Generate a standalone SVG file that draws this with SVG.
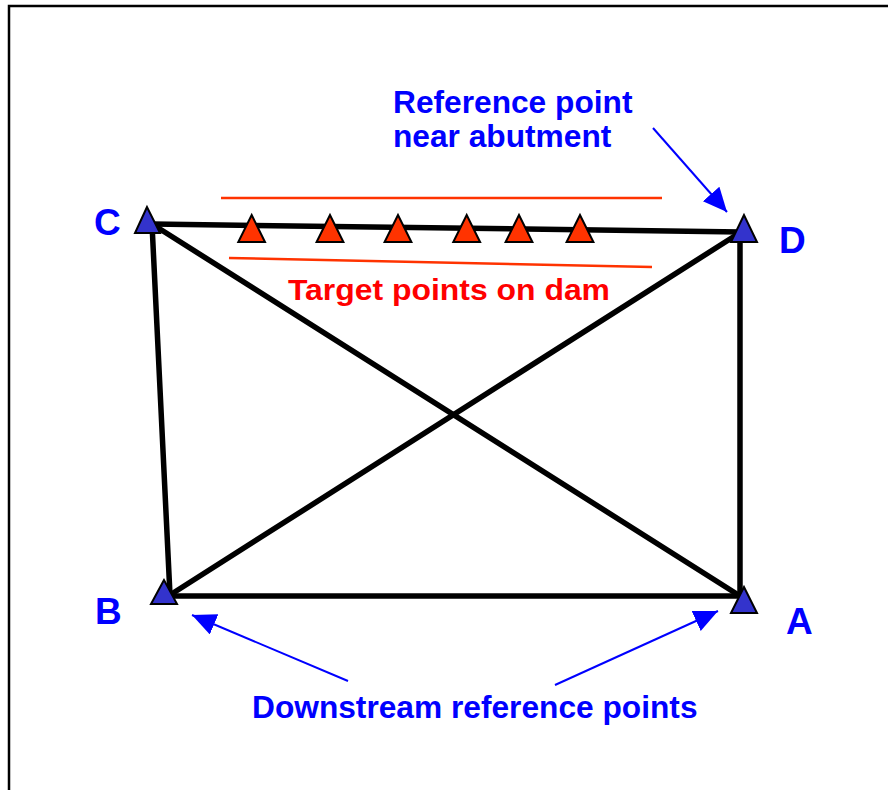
<svg xmlns="http://www.w3.org/2000/svg" width="888" height="790" viewBox="0 0 888 790">
<style>
.edge{stroke:#000;stroke-width:5.5;fill:none;stroke-linecap:round}
.sta{fill:#3333CC;stroke:#000;stroke-width:2;stroke-linejoin:miter}
.tgt{fill:#FF3300;stroke:#000;stroke-width:2}
.red{stroke:#FF3300;stroke-width:2.5;fill:none}
.arr{stroke:#0000FF;stroke-width:2;fill:none;marker-end:url(#ah)}
.lbl{font-family:"Liberation Sans",Arial,sans-serif;font-weight:bold;fill:#0000FF}
.big{font-size:37px}
.note{font-size:31.7px}
.rtxt{font-family:"Liberation Sans",Arial,sans-serif;font-weight:bold;fill:#FF0000;font-size:30px}
</style>
<defs>
<marker id="ah" markerUnits="userSpaceOnUse" markerWidth="26" markerHeight="24" refX="24" refY="11" orient="auto">
<path d="M0,0 L24,11 L0,22 z" fill="#0000FF"/>
</marker>
</defs>
<rect x="0" y="0" width="888" height="790" fill="#fff"/>
<rect x="9" y="6" width="900" height="800" fill="none" stroke="#000" stroke-width="2.5"/>
<g id="connectors">
<line class="edge" x1="152" y1="224" x2="741" y2="232"/>
<line class="edge" x1="152" y1="224" x2="170" y2="595"/>
<line class="edge" x1="152" y1="224" x2="740" y2="596"/>
<line class="edge" x1="170" y1="595" x2="741" y2="232"/>
<line class="edge" x1="170" y1="596" x2="740" y2="596"/>
<line class="edge" x1="740" y1="232" x2="740" y2="596"/>
<line class="red" x1="221" y1="198" x2="662" y2="198"/>
<line class="red" x1="229" y1="258" x2="652" y2="267"/>
<line class="arr" x1="653" y1="128" x2="727" y2="212"/>
<line class="arr" x1="348" y1="681" x2="192" y2="615"/>
<line class="arr" x1="555" y1="685" x2="718" y2="611"/>
</g>
<g id="C">
<polygon class="sta" points="147,207 135,233 160,233"/>
<text class="lbl big" x="94" y="235">C</text>
</g>
<g id="D">
<polygon class="sta" points="744,215 731,242 757,242"/>
<text class="lbl big" x="779" y="253">D</text>
</g>
<g id="B">
<polygon class="sta" points="164,580 151,604 177,604"/>
<text class="lbl big" x="95" y="624">B</text>
</g>
<g id="A">
<polygon class="sta" points="744,587 731,613 757,613"/>
<text class="lbl big" x="786" y="634">A</text>
</g>
<g id="targets">
<polygon class="tgt" points="251.7,215 238.3,242 265,242"/>
<polygon class="tgt" points="330,215 316.6,242 343.4,242"/>
<polygon class="tgt" points="398,215 384.6,242 411.4,242"/>
<polygon class="tgt" points="466.7,215 453.3,242 480.1,242"/>
<polygon class="tgt" points="519,215 505.6,242 532.4,242"/>
<polygon class="tgt" points="580,215 566.6,242 593.4,242"/>
</g>
<g id="label-ref">
<text class="lbl note" x="393" y="113">Reference point</text>
<text class="lbl note" x="393" y="147">near abutment</text>
</g>
<g id="label-target">
<text class="rtxt" x="288" y="300" textLength="322" lengthAdjust="spacingAndGlyphs">Target points on dam</text>
</g>
<g id="label-down">
<text class="lbl note" x="252" y="718">Downstream reference points</text>
</g>
</svg>
